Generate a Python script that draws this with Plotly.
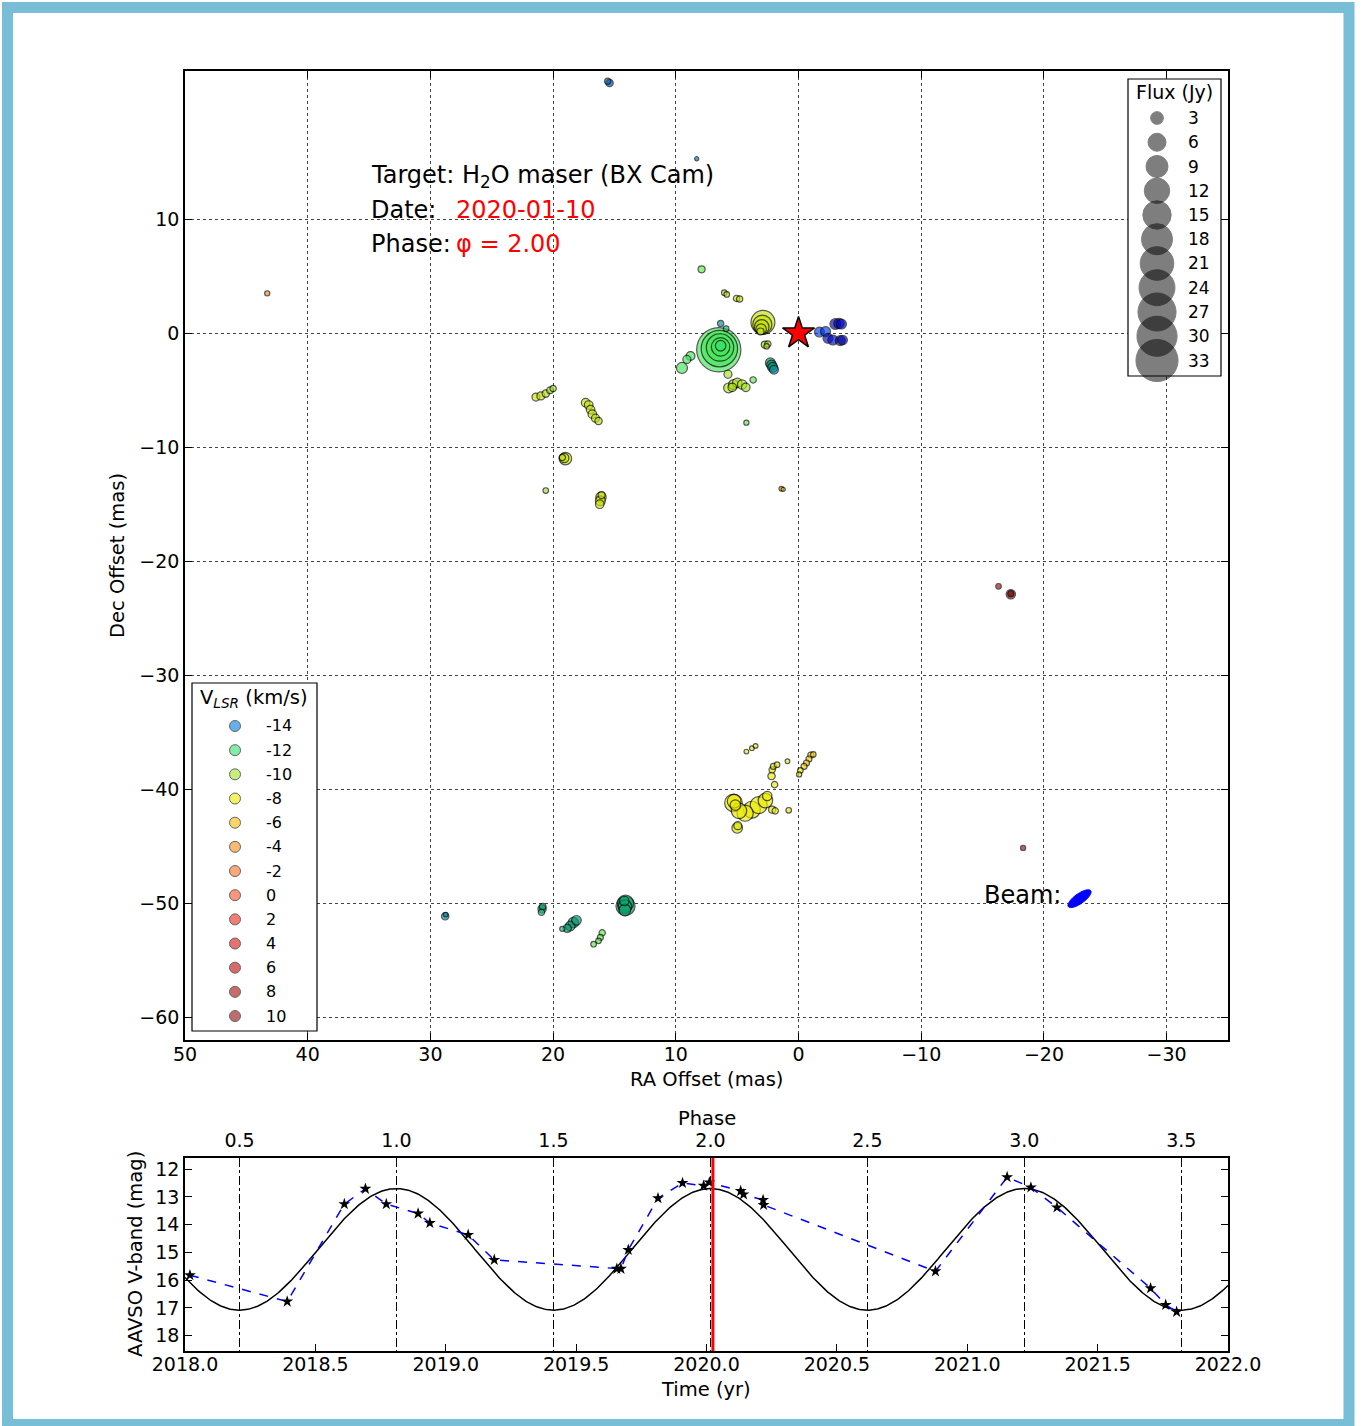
import numpy as np
import plotly.graph_objects as go
from plotly.colors import sample_colorscale

W, H = 1367, 1426
FONT = "DejaVu Sans"

# ---------------- maser spot data ----------------
ra_mas = [15.55, 15.4, 8.3, 43.3, 1.4, 1.25,
          7.9, 6.05, 5.85, 5.05, 4.8,
          2.9, 2.95, 3.0, 3.05, 3.1,
          2.75, 2.5, 2.6,
          2.3, 2.2, 2.1, 2.0,
          -1.7, -2.2, -3.0, -3.3, -3.5, -2.4, -2.8, -3.4, -3.6,
          6.5, 6.45, 6.4, 6.35, 6.35,
          6.35, 5.9, 9.5, 8.8, 9.1, 5.75,
          5.7, 5.3, 5.0, 4.6, 4.3, 5.4,
          3.7, 4.25,
          21.4, 21.0, 20.6, 20.25, 20.0,
          17.35, 17.1, 16.95, 16.8, 16.55, 16.3,
          19.0, 19.1, 19.25, 20.6,
          16.1, 16.15, 16.2, 16.05,
          -16.3, -17.3, -17.3, -18.3,
          4.25, 3.8, 3.5, 0.9,
          -1.0, -1.2, -0.85, -0.65, -0.45, -0.15, -0.05,
          1.75, 2.05, 2.15, 2.2, 1.95,
          5.3, 5.25, 5.15, 4.85, 4.35, 3.8, 3.25, 2.7, 2.55, 2.15, 1.9, 5.0, 4.95,
          0.8,
          28.8, 28.75, 20.9, 20.85, 20.95,
          19.25, 18.85, 18.6, 18.35, 18.1,
          16.0, 16.15, 16.3, 16.7,
          14.1, 14.1, 14.15, 14.2, 14.15]
dec_mas = [22.1, 21.95, 15.3, 3.5, -13.65, -13.7,
           5.6, 3.55, 3.4, 3.05, 3.0,
           0.95, 0.75, 0.55, 0.35, 0.15,
           -1.0, -0.95, -1.15,
           -2.6, -2.8, -3.0, -3.2,
           0.1, 0.15, 0.8, 0.85, 0.8, -0.45, -0.6, -0.65, -0.6,
           -1.45, -1.35, -1.25, -1.2, -1.1,
           0.85, 0.4, -3.05, -2.0, -2.3, -3.6,
           -4.8, -4.5, -4.35, -4.5, -4.75, -4.75,
           -4.1, -7.85,
           -5.6, -5.5, -5.3, -5.0, -4.85,
           -6.1, -6.3, -6.7, -7.1, -7.45, -7.7,
           -11.0, -10.95, -10.9, -13.8,
           -14.4, -14.7, -15.0, -14.2,
           -22.2, -22.9, -22.85, -45.15,
           -36.7, -36.4, -36.2, -37.55,
           -37.0, -36.95, -37.35, -37.7, -38.0, -38.35, -38.7,
           -37.85, -38.0, -38.3, -38.85, -39.6,
           -41.2, -41.05, -41.4, -41.9, -42.1, -41.8, -41.4, -41.0, -40.6, -41.8, -41.9, -43.4, -43.2,
           -41.85,
           -51.15, -51.0, -50.5, -50.3, -50.8,
           -52.25, -52.2, -52.0, -51.7, -51.5,
           -52.6, -53.0, -53.3, -53.6,
           -50.25, -50.0, -50.3, -49.8, -50.6]
vlsr_kms = [-15, -15.5, -14.5, -4, -5, -5,
            -11, -9.5, -9.5, -9, -9,
            -9, -9, -9, -9, -9.5,
            -9.5, -9.5, -9.5,
            -13, -13, -13, -13.5,
            -16, -16, -17.5, -17.5, -17, -17, -17, -17.5, -17.5,
            -11.5, -11.5, -11.5, -11.5, -12,
            -13.5, -12.5, -11.5, -11.5, -11.5, -10,
            -9.5, -9.5, -9.5, -9.5, -10, -9.5,
            -11, -11,
            -9, -9, -9.5, -9.5, -10,
            -9, -9, -9, -9, -9, -9.5,
            -9, -9, -9, -10,
            -9, -9, -9, -9,
            8, 11, 11.5, 8,
            -8, -8, -8, -8,
            -7, -7, -7, -7, -7, -8, -8,
            -8, -8, -8, -8, -8,
            -8, -8, -8, -8, -8, -8, -8, -8, -8, -8, -8, -8.5, -8.5,
            -7.5,
            -13.5, -13.5, -13, -13, -12.5,
            -12.5, -13, -13, -13, -13,
            -11, -11, -11, -11,
            -12.8, -12.8, -12.8, -12.8, -12.8]
flux_jy = [1.0, 1.3, 0.5, 0.7, 0.6, 0.5,
           1.2, 0.8, 0.8, 1.0, 1.0,
           11.5, 7.5, 4.5, 2.5, 1.2,
           1.2, 1.0, 0.8,
           2.2, 2.2, 2.2, 1.8,
           2.2, 2.2, 2.6, 2.4, 2.2, 2.2, 2.2, 2.2, 2.0,
           38, 26, 15, 7, 2.5,
           1.0, 0.8, 2.7, 1.8, 1.5, 1.5,
           2.2, 2.2, 2.0, 2.0, 1.7, 1.7,
           1.0, 0.7,
           1.5, 1.5, 1.3, 1.1, 1.0,
           1.7, 1.7, 1.7, 1.7, 1.5, 1.3,
           3.4, 2.0, 1.0, 0.8,
           2.4, 2.2, 1.7, 1.2,
           0.8, 2.0, 0.9, 0.7,
           0.6, 0.6, 0.6, 0.6,
           0.9, 0.8, 0.9, 0.9, 0.9, 0.8, 0.7,
           0.8, 0.9, 1.0, 1.3, 1.0,
           6.5, 4, 2.5, 5, 5.5, 6, 6, 4.5, 2.0, 1.2, 1.0, 2.5, 1.5,
           0.8,
           1.3, 0.6, 1.6, 1.1, 1.0,
           0.7, 1.6, 2.1, 2.4, 2.1,
           1.0, 0.9, 0.8, 0.8,
           7.5, 5.5, 4, 2, 3]

star_ra = [0.0]
star_dec = [0.0]

# beam (mas, deg)
beam_ra, beam_dec = -22.9, -49.6
beam_major, beam_minor, beam_pa = 2.3, 0.85, -52.0

# legends
flux_legend = [3, 6, 9, 12, 15, 18, 21, 24, 27, 30, 33]
vel_legend = [-14, -12, -10, -8, -6, -4, -2, 0, 2, 4, 6, 8, 10]

# velocity colour map (km/s -> colour)
vel_stops = [-18, -17, -16, -15, -14, -13, -12, -11, -10, -9, -8, -6, -4, -2, 0, 2, 4, 6, 8, 10, 12]
vel_colors = ["rgb(0,0,140)", "rgb(0,10,200)", "rgb(0,60,230)", "rgb(0,100,170)", "rgb(0,125,220)",
              "rgb(0,150,110)", "rgb(50,225,110)", "rgb(90,235,70)", "rgb(160,230,40)",
              "rgb(200,225,10)", "rgb(235,235,0)", "rgb(250,185,0)", "rgb(250,140,20)",
              "rgb(250,110,30)", "rgb(250,80,40)", "rgb(235,40,30)", "rgb(215,20,20)",
              "rgb(190,10,10)", "rgb(165,10,10)", "rgb(145,15,15)", "rgb(110,0,0)"]

# ---------------- light curve data ----------------
obs_time = [2018.019, 2018.392, 2018.611, 2018.692, 2018.772, 2018.894, 2018.939, 2019.086,
            2019.186, 2019.656, 2019.672, 2019.700, 2019.814, 2019.908, 2019.989, 2020.011,
            2020.131, 2020.142, 2020.217, 2020.219, 2020.878, 2021.153, 2021.244, 2021.344,
            2021.703, 2021.761, 2021.803]
obs_mag = [15.82, 16.77, 13.26, 12.71, 13.26, 13.60, 13.94, 14.37,
           15.27, 15.59, 15.59, 14.91, 13.05, 12.50, 12.60, 12.48,
           12.79, 12.91, 13.11, 13.29, 15.68, 12.29, 12.66, 13.38,
           16.29, 16.89, 17.14]

period_yr = 1.204
phase2_time = 2020.015          # epoch of phase 2.0 (maximum)
mag_mean, mag_amp = 14.89, 2.19
obs_date = 2020.0246            # 2020-01-10
time_range = [2018.0, 2022.0]
time_ticks = [2018.0, 2018.5, 2019.0, 2019.5, 2020.0, 2020.5, 2021.0, 2021.5, 2022.0]
phase_ticks = [0.5, 1.0, 1.5, 2.0, 2.5, 3.0, 3.5]
mag_ticks = [12, 13, 14, 15, 16, 17, 18]

# ---------------- helpers ----------------
def px(x):
    return x / W

def py(y):
    return 1 - y / H

vmin, vmax = vel_stops[0], vel_stops[-1]
colorscale = [[(v - vmin) / (vmax - vmin), c] for v, c in zip(vel_stops, vel_colors)]

def vcol(v):
    return sample_colorscale(colorscale, [(v - vmin) / (vmax - vmin)])[0]

def msize(f):
    return 7.33 * np.sqrt(np.asarray(f, dtype=float)) - 1

SPOT_OPACITY = 0.66

fig = go.Figure()

# maser spots (largest first so smaller ones sit on top)
order = np.argsort(-np.asarray(flux_jy), kind="stable")
fig.add_trace(go.Scatter(
    x=np.asarray(ra_mas)[order], y=np.asarray(dec_mas)[order], mode="markers",
    marker=dict(size=msize(np.asarray(flux_jy)[order]), color=np.asarray(vlsr_kms)[order],
                colorscale=colorscale, cmin=vmin, cmax=vmax, opacity=SPOT_OPACITY,
                showscale=False, line=dict(color="black", width=1.2)),
    xaxis="x", yaxis="y", showlegend=False, hoverinfo="skip"))

fig.add_trace(go.Scatter(
    x=star_ra, y=star_dec, mode="markers",
    marker=dict(symbol="star", size=24, color="red", line=dict(color="black", width=1.5)),
    xaxis="x", yaxis="y", showlegend=False, hoverinfo="skip"))

# light curve
t_model = np.linspace(time_range[0], time_range[1], 800)
phase_model = 2.0 + (t_model - phase2_time) / period_yr
mag_model = mag_mean - mag_amp * np.cos(2 * np.pi * phase_model)
fig.add_trace(go.Scatter(x=t_model, y=mag_model, mode="lines",
                         line=dict(color="black", width=1.5),
                         xaxis="x2", yaxis="y2", showlegend=False, hoverinfo="skip"))
fig.add_trace(go.Scatter(x=obs_time, y=obs_mag, mode="lines+markers",
                         line=dict(color="blue", width=1.5, dash="dash"),
                         marker=dict(symbol="star", size=9, color="black"),
                         xaxis="x2", yaxis="y2", showlegend=False, hoverinfo="skip"))
phase_range = [2.0 + (time_range[0] - phase2_time) / period_yr,
               2.0 + (time_range[1] - phase2_time) / period_yr]
fig.add_trace(go.Scatter(x=phase_range, y=[15, 15], mode="lines",
                         line=dict(color="rgba(0,0,0,0)", width=0),
                         xaxis="x3", yaxis="y2", showlegend=False, hoverinfo="skip"))

# ---------------- shapes ----------------
shapes = []
# page frame
shapes.append(dict(type="rect", xref="paper", yref="paper",
                   x0=px(7.5), x1=px(1349), y0=py(1424.5), y1=py(7.5),
                   line=dict(color="#77BED6", width=11), fillcolor="rgba(0,0,0,0)", layer="below"))
# legend boxes
shapes.append(dict(type="rect", xref="paper", yref="paper",
                   x0=px(1128), x1=px(1221), y0=py(376), y1=py(79),
                   line=dict(color="black", width=1.2), fillcolor="white", layer="above"))
shapes.append(dict(type="rect", xref="paper", yref="paper",
                   x0=px(192), x1=px(317), y0=py(1031), y1=py(683),
                   line=dict(color="black", width=1.2), fillcolor="white", layer="above"))
# flux legend circles
for i, f in enumerate(flux_legend):
    r = (msize(f) + 1) / 2
    yc = 118 + 24.25 * i
    shapes.append(dict(type="circle", xref="paper", yref="paper",
                       xsizemode="pixel", ysizemode="pixel",
                       xanchor=px(1157), yanchor=py(yc), x0=-r, x1=r, y0=-r, y1=r,
                       fillcolor="black", opacity=0.5, line=dict(color="black", width=1),
                       layer="above"))
# velocity legend circles
for i, v in enumerate(vel_legend):
    r = 5.5
    yc = 726 + 24.17 * i
    shapes.append(dict(type="circle", xref="paper", yref="paper",
                       xsizemode="pixel", ysizemode="pixel",
                       xanchor=px(235), yanchor=py(yc), x0=-r, x1=r, y0=-r, y1=r,
                       fillcolor=vcol(v), opacity=0.6, line=dict(color="black", width=1),
                       layer="above"))
# beam ellipse
th = np.linspace(0, 2 * np.pi, 60)
pa = np.deg2rad(beam_pa)
u = np.array([np.sin(pa), np.cos(pa)])     # major axis direction (RA, Dec)
vv = np.array([np.cos(pa), -np.sin(pa)])
ex = beam_ra + beam_major / 2 * np.cos(th) * u[0] + beam_minor / 2 * np.sin(th) * vv[0]
ey = beam_dec + beam_major / 2 * np.cos(th) * u[1] + beam_minor / 2 * np.sin(th) * vv[1]
path = "M " + " L ".join(f"{a:.4f},{b:.4f}" for a, b in zip(ex, ey)) + " Z"
shapes.append(dict(type="path", xref="x", yref="y", path=path,
                   fillcolor="blue", line=dict(color="blue", width=1), layer="above"))
# observation date line
shapes.append(dict(type="line", xref="x2", yref="y2 domain", x0=obs_date, x1=obs_date,
                   y0=0, y1=1, line=dict(color="red", width=3), layer="above"))

# ---------------- annotations ----------------
ann = []
def text(x, y, s, size=19.5, color="black", xanchor="center", angle=0):
    ann.append(dict(x=px(x), y=py(y), xref="paper", yref="paper", text=s, showarrow=False,
                    xanchor=xanchor, yanchor="middle", textangle=angle,
                    font=dict(family=FONT, size=size, color=color)))

text(706, 1079, "RA Offset (mas)")
text(118, 556, "Dec Offset (mas)", angle=-90)
text(135, 1254, "AAVSO V-band (mag)", angle=-90)
text(706, 1389, "Time (yr)")
text(707, 1118, "Phase")
text(369, 176, "Target: H<sub>2</sub>O maser (BX Cam)", size=24, xanchor="left")
text(369, 210, "Date:", size=24, xanchor="left")
text(454, 210, "2020-01-10", size=24, color="red", xanchor="left")
text(369, 244, "Phase:", size=24, xanchor="left")
text(454, 244, "φ = 2.00", size=24, color="red", xanchor="left")
text(982, 895, "Beam:", size=24, xanchor="left")
text(1174, 92, "Flux (Jy)", size=19)
for i, f in enumerate(flux_legend):
    text(1186, 118 + 24.25 * i, str(f), size=17, xanchor="left")
text(254, 698, "V<sub><i>LSR</i></sub> (km/s)", size=19.5)
for i, v in enumerate(vel_legend):
    text(264, 726 + 24.17 * i, str(v), size=16, xanchor="left")

# ---------------- axes ----------------
common = dict(showline=True, linecolor="black", linewidth=1.5, ticks="inside", ticklen=7,
              tickcolor="black", tickwidth=1, zeroline=False, automargin=False,
              tickfont=dict(family=FONT, size=19, color="black"))
grid = dict(showgrid=True, gridcolor="#444444", gridwidth=1, griddash="dot")

fig.update_layout(
    width=W, height=H, autosize=False,
    margin=dict(l=0, r=0, t=0, b=0, pad=0, autoexpand=False),
    paper_bgcolor="white", plot_bgcolor="rgba(0,0,0,0)",
    font=dict(family=FONT, size=19, color="black"),
    shapes=shapes, annotations=ann, showlegend=False,
    xaxis=dict(domain=[px(185), px(1228)], range=[50, -35], anchor="y",
               tickvals=list(range(-30, 51, 10)), mirror="ticks", ticklabelstandoff=-4,
               **common, **grid),
    yaxis=dict(domain=[py(1040), py(71)], range=[-62, 23], anchor="x",
               tickvals=list(range(-60, 11, 10)), mirror="ticks", **common, **grid),
    xaxis2=dict(domain=[px(185), px(1228)], range=time_range, anchor="y2",
                tickvals=time_ticks, tickformat=".1f", mirror=True, showgrid=False,
                ticklabelstandoff=-5, **common),
    yaxis2=dict(domain=[py(1351), py(1158)], range=[18.55, 11.6], anchor="x2",
                tickvals=mag_ticks, mirror="ticks", showgrid=False, **common),
    xaxis3=dict(overlaying="x2", side="top", anchor="y2", range=phase_range,
                tickvals=phase_ticks, tickformat=".1f", showgrid=True, gridcolor="black",
                gridwidth=1, griddash="dashdot", ticklabelstandoff=2, **common),
)

fig.write_html("out.html", config={"responsive": False})
